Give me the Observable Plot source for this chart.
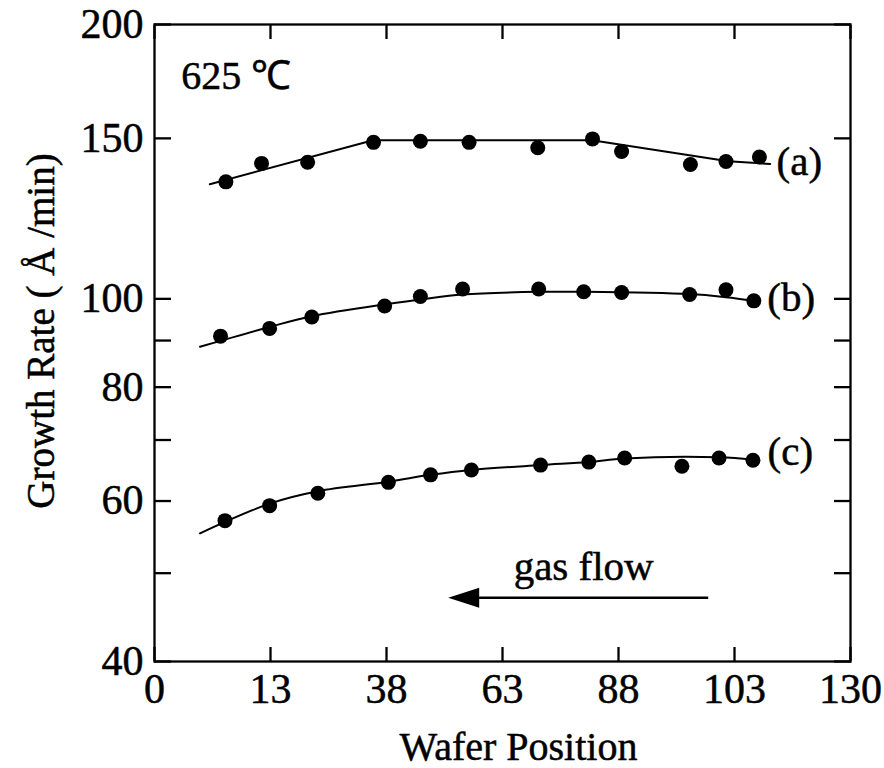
<!DOCTYPE html>
<html><head><meta charset="utf-8">
<script src="https://cdn.jsdelivr.net/npm/d3@7"></script>
<script src="https://cdn.jsdelivr.net/npm/@observablehq/plot@0.6"></script>
<style>html,body{margin:0;padding:0;background:#fff}</style>
</head><body><div id="chart"></div>
<script>
// ---- data ----
const xTicks = [0, 13, 38, 63, 88, 103, 130];
const yTicksAll = [40, 50, 60, 70, 80, 90, 100, 150, 200];
const yTicksLabeled = [40, 60, 80, 100, 150, 200];

const posA  = [8.0, 12.0, 21.0, 35.2, 45.3, 55.8, 70.6, 82.4, 88.4, 97.3, 101.9, 108.8];
const rateA = [134.4, 140.8, 141.2, 148.5, 148.9, 148.5, 146.5, 149.8, 145.1, 140.4, 141.5, 143.1];
const fitPosA  = [6.2, 35.1, 82.3, 102.2, 111.3];
const fitRateA = [133.6, 149.3, 149.3, 141.6, 140.6];

const posB  = [7.4, 12.9, 21.9, 37.6, 45.3, 54.4, 70.8, 80.5, 88.4, 97.2, 101.9, 107.5];
const rateB = [91.0, 92.8, 95.5, 98.2, 100.6, 102.5, 102.5, 101.8, 101.6, 101.1, 102.3, 99.5];
const fitPosB  = [5.1, 13.0, 21.9, 37.6, 45.3, 54.4, 70.8, 80.5, 97.2, 101.9, 107.5];
const fitRateB = [88.6, 93.2, 95.7, 98.6, 99.8, 101.1, 101.8, 101.8, 101.2, 100.4, 99.5];

const posC  = [7.9, 12.9, 23.2, 38.4, 47.5, 56.3, 71.2, 81.6, 88.8, 96.2, 101.0, 107.3];
const rateC = [57.1, 59.3, 61.2, 62.9, 64.1, 64.9, 65.7, 66.2, 66.9, 65.5, 66.9, 66.5];
const fitPosC  = [5.1, 12.9, 23.2, 38.4, 47.5, 56.3, 71.2, 81.6, 88.8, 101.0, 107.3];
const fitRateC = [55.3, 59.6, 61.5, 63.0, 64.1, 64.9, 65.7, 66.2, 66.8, 67.0, 66.6];

const seriesNames = ["(a)", "(b)", "(c)"];
const seriesLabelPos = [118.1, 116.2, 116.0];
const seriesLabelRate = [141.2, 100.2, 67.9];

const tempLabel = "625 ℃";
const tempPos = 3.0, tempRate = 175.5;
const flowLabel = "gas flow";
const flowTextPos = 80.5, flowTextRate = 49.2;
const arrowFrom = 99.6, arrowTo = 51.3, arrowRate = 47.0;

const xTitle = "Wafer Position";
const yTitle = "Growth Rate ( Å /min)";

// ---- tables ----
const rows = (s, xs, ys) => xs.map((x, i) => ({series: s, x, y: ys[i]}));
const points = [...rows("a", posA, rateA), ...rows("b", posB, rateB), ...rows("c", posC, rateC)];
const fitA = rows("a", fitPosA, fitRateA);
const fitB = rows("b", fitPosB, fitRateB);
const fitC = rows("c", fitPosC, fitRateC);
const labels = seriesNames.map((t, i) => ({t, x: seriesLabelPos[i], y: seriesLabelRate[i]}));

// ---- layout ----
const W = 884, H = 768, ML = 154, MR = 34, MT = 24, MB = 107;
const xRange = xTicks.map((_, i) => ML + i * (W - ML - MR) / (xTicks.length - 1));
const FONT = "'Liberation Serif', 'Times New Roman', serif";
const FS_TICK = 42, FS_TITLE = 40, FS_ANN = 41;
const SW = 2.3;
const TS = 0.5; // slight text stroke to mimic the heavier scanned type

const arrowHead = {
  draw(ctx) { ctx.moveTo(0, 0); ctx.lineTo(31, -10); ctx.lineTo(31, 10); ctx.closePath(); }
};

const txt = {fill: "#000", stroke: "#000", strokeWidth: TS};

const chart = Plot.plot({
  width: W, height: H,
  marginLeft: ML, marginRight: MR, marginTop: MT, marginBottom: MB,
  style: {fontFamily: FONT, fontSize: FS_TICK + "px", background: "#fff", color: "#000", overflow: "visible"},
  x: {type: "linear", domain: xTicks, range: xRange},
  y: {type: "log", domain: [40, 200]},
  marks: [
    Plot.frame({stroke: "#000", strokeWidth: SW}),
    // inward ticks on all four sides
    Plot.axisX(xTicks, {anchor: "bottom", tickSize: -14, strokeWidth: SW, fill: "none", label: null}),
    Plot.axisX(xTicks, {anchor: "top", tickSize: -14, strokeWidth: SW, fill: "none", label: null}),
    Plot.axisY(yTicksAll, {anchor: "left", tickSize: -17, strokeWidth: SW, fill: "none", label: null}),
    Plot.axisY(yTicksAll, {anchor: "right", tickSize: -17, strokeWidth: SW, fill: "none", label: null}),
    // tick labels
    Plot.axisX(xTicks, {anchor: "bottom", tickSize: 0, tickPadding: 12, fontSize: FS_TICK,
      textStroke: "#000", textStrokeWidth: TS, textStrokeOpacity: 1, tickFormat: d => String(d), label: null}),
    Plot.axisY(yTicksLabeled, {anchor: "left", tickSize: 0, tickPadding: 11, fontSize: FS_TICK,
      textStroke: "#000", textStrokeWidth: TS, textStrokeOpacity: 1, tickFormat: d => String(d), label: null}),
    // axis titles
    Plot.text([xTitle], {frameAnchor: "bottom", dx: 16, dy: 98, textAnchor: "middle", lineAnchor: "bottom", fontSize: FS_TITLE, ...txt}),
    Plot.text([yTitle], {frameAnchor: "left", dx: -101, dy: -12, rotate: -90, textAnchor: "middle", lineAnchor: "bottom", fontSize: FS_TITLE - 1, ...txt}),
    // fitted lines
    Plot.line(fitA, {x: "x", y: "y", stroke: "#000", strokeWidth: 2}),
    Plot.line(fitB, {x: "x", y: "y", stroke: "#000", strokeWidth: 2, curve: "catmull-rom"}),
    Plot.line(fitC, {x: "x", y: "y", stroke: "#000", strokeWidth: 2, curve: "catmull-rom"}),
    // data points
    Plot.dot(points, {x: "x", y: "y", r: 7.5, fill: "#000", stroke: "none"}),
    // series labels
    Plot.text(labels, {x: "x", y: "y", text: "t", fontSize: FS_ANN, textAnchor: "middle", lineAnchor: "middle", ...txt}),
    // annotations
    Plot.text([tempLabel], {x: tempPos, y: tempRate, textAnchor: "start", lineAnchor: "middle", fontSize: FS_ANN - 1, ...txt}),
    Plot.text([flowLabel], {x: flowTextPos, y: flowTextRate, textAnchor: "middle", lineAnchor: "bottom", fontSize: FS_ANN, ...txt}),
    Plot.link([{x1: arrowFrom, x2: arrowTo + 2, y: arrowRate}], {x1: "x1", x2: "x2", y1: "y", y2: "y", stroke: "#000", strokeWidth: 2.5}),
    Plot.dot([{x: arrowTo, y: arrowRate}], {x: "x", y: "y", symbol: arrowHead, fill: "#000", stroke: "none"})
  ]
});
document.getElementById("chart").appendChild(chart);
</script>
</body></html>
